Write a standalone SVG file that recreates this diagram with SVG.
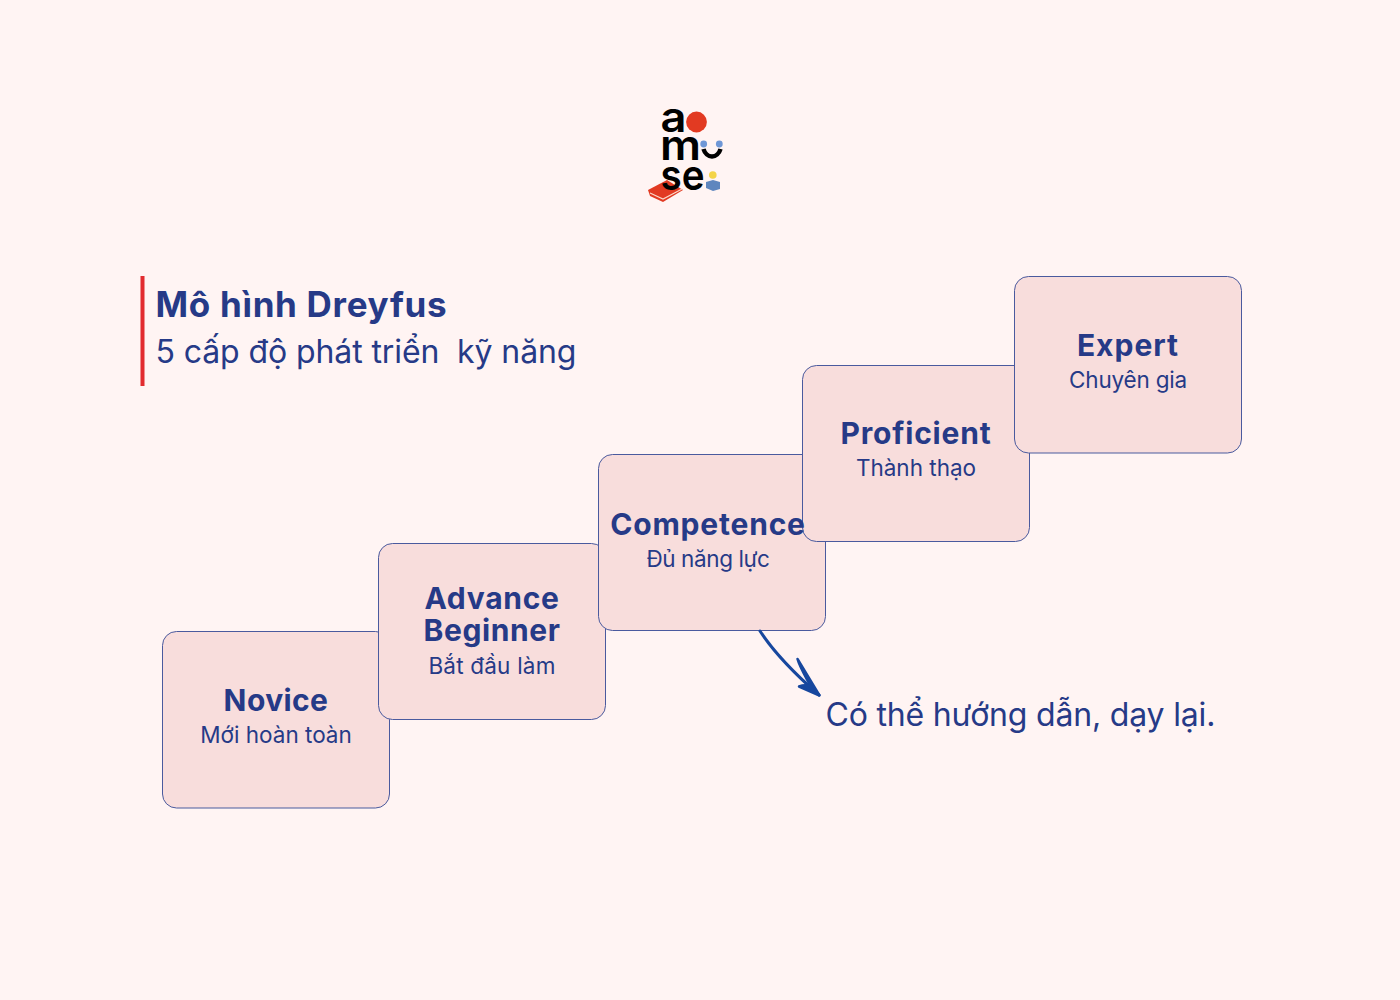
<svg xmlns="http://www.w3.org/2000/svg" width="1400" height="1000" viewBox="0 0 1400 1000">
<style>
text{font-family:"Inter","Noto Sans",sans-serif;fill:#263A87;text-anchor:middle}
.box{fill:#F8DDDC;stroke:#4A5A9E;stroke-width:1}
.t{font-size:30px;font-weight:700}
.s{font-size:22.5px;font-weight:400}
.l{text-anchor:start}
.logo{fill:#000;font-weight:600;font-size:42px;text-anchor:start}
</style>
<rect width="1400" height="1000" fill="#FFF4F3"/>
<g id="logo">
<text class="logo" x="660.500" y="132" textLength="26" lengthAdjust="spacingAndGlyphs">a</text>
<circle cx="696.500" cy="122" r="10.4" fill="#E23A22"/>
<text class="logo" x="660" y="160" textLength="41" lengthAdjust="spacingAndGlyphs">m</text>
<path d="M703.500 149 A9 11 0 0 0 720.500 149" fill="none" stroke="#000" stroke-width="4.500"/>
<circle cx="703.700" cy="144" r="3.400" fill="#6F97D6"/>
<circle cx="719.300" cy="144" r="3.400" fill="#6F97D6"/>
<path d="M648 190 L667 180 L683 190 L663 202 L650 196Z" fill="#E23A22"/>
<path d="M650 193 L663 199 L682 189" fill="none" stroke="#FBD7C8" stroke-width="1.200"/>
<text class="logo" x="660.500" y="190" textLength="44" lengthAdjust="spacingAndGlyphs">se</text>
<path d="M706 182 L713 180 L720 182 V189 L713 191 L706 188Z" fill="#5E86BE"/>
<circle cx="712.800" cy="175" r="3.800" fill="#F4D447"/>
</g>
<g id="title">
<rect x="140.500" y="276" width="4" height="110" fill="#E22B2F"/>
<text class="l" x="155.500" y="317" font-size="35" font-weight="700" letter-spacing=".7">Mô hình Dreyfus</text>
<text class="l" x="155.500" y="363" font-size="32" letter-spacing="-.1" xml:space="preserve">5 cấp độ phát triển  kỹ năng</text>
</g>
<g id="node-novice">
<rect class="box" x="162.500" y="631.500" width="227" height="176.500" rx="14"/>
<text class="t" x="276" y="711" letter-spacing=".4">Novice</text>
<text class="s" x="276" y="743">Mới hoàn toàn</text>
</g>
<g id="node-advance">
<rect class="box" x="378.500" y="543.500" width="227" height="176" rx="14"/>
<text class="t" x="492" y="609" letter-spacing=".7">Advance</text>
<text class="t" x="492" y="641" letter-spacing=".6">Beginner</text>
<text class="s" x="492" y="674" letter-spacing=".2">Bắt đầu làm</text>
</g>
<g id="node-competence">
<rect class="box" x="598.500" y="454.500" width="227" height="176" rx="14"/>
</g>
<g id="node-proficient">
<rect class="box" x="802.500" y="365.500" width="227" height="176" rx="14"/>
<text class="t" x="916" y="444" letter-spacing=".8">Proficient</text>
<text class="s" x="916" y="476">Thành thạo</text>
</g>
<g id="node-competence-label">
<text class="t" x="708" y="535" letter-spacing=".8">Competence</text>
<text class="s" x="708" y="567" letter-spacing="-.4">Đủ năng lực</text>
</g>
<g id="node-expert">
<rect class="box" x="1014.500" y="276.500" width="227" height="176.500" rx="14"/>
<text class="t" x="1128" y="356" letter-spacing="1">Expert</text>
<text class="s" x="1128" y="388" letter-spacing="-.2">Chuyên gia</text>
</g>
<g id="connectors">
<path d="M760 631 C773 651 795 674 819 695" fill="none" stroke="#17479E" stroke-width="3" stroke-linecap="round"/>
<path d="M797.500 659 L819.500 695.500 L799 686.500 C803 685 808 685 811 687 C806 677 800 668 797.500 659Z" fill="#17479E" stroke="#17479E" stroke-width="2.500" stroke-linejoin="round"/>
</g>
<text class="l" x="825.500" y="726" font-size="32" letter-spacing="-.18">Có thể hướng dẫn, dạy lại.</text>
</svg>
